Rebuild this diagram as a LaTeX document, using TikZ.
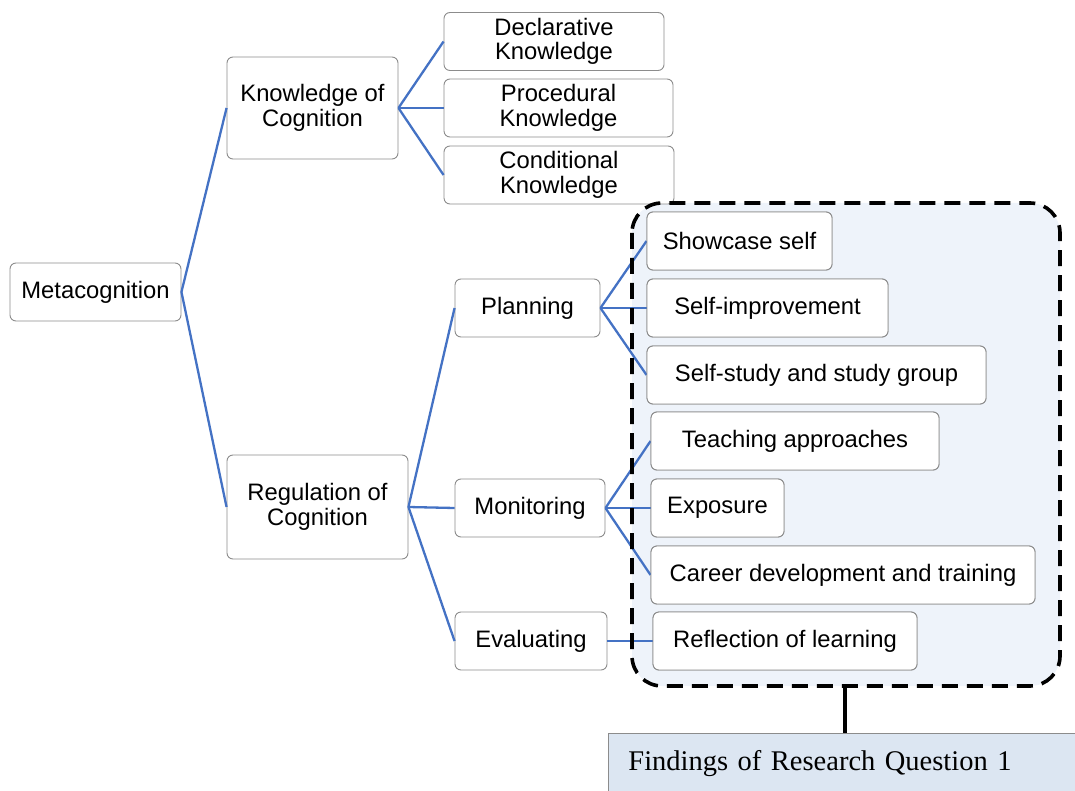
\documentclass[tikz,border=0pt]{standalone}
\usepackage{fontspec}
\setmainfont{Liberation Sans}
\newfontfamily\serifff{Liberation Serif}
\begin{document}
\begin{tikzpicture}[x=1pt,y=-1pt,
  box/.style={draw=black!45, line width=0.9pt, fill=white, rounded corners=6pt, align=center,
    font=\fontsize{23.8}{24.5}\selectfont, inner sep=0pt, minimum height=58},
  conn/.style={draw=linkblue, line width=2.3pt},
  findings/.style={draw=black!45, line width=0.9pt, fill=findfill, anchor=north west, align=left,
    font=\serifff\fontsize{28.5}{32}\selectfont, text width=440, inner xsep=20, inner ysep=0pt, minimum height=60}]
\definecolor{linkblue}{HTML}{4472C4}
\definecolor{panelfill}{HTML}{EEF3FA}
\definecolor{findfill}{HTML}{DCE6F2}
\useasboundingbox (0,0) rectangle (1075,791);
% panel background
\fill[panelfill, rounded corners=30] (632,203) rectangle (1060,686);
% nodes
\node[box, minimum width=171] (meta) at (95.5,292) {Metacognition};
\node[box, minimum width=171, minimum height=102] (know) at (312.5,108) {Knowledge of\\Cognition};
\node[box, minimum width=220] (decl) at (554,41.5) {Declarative\\Knowledge};
\node[box, minimum width=229] (proc) at (558.5,108) {Procedural\\Knowledge};
\node[box, minimum width=230] (cond) at (559,175) {Conditional\\Knowledge};
\node[box, minimum width=181, minimum height=104] (reg) at (317.5,507) {Regulation of\\Cognition};
\node[box, minimum width=145] (plan) at (527.5,308) {Planning};
\node[box, minimum width=150] (mon) at (530,508) {Monitoring};
\node[box, minimum width=152] (eval) at (531,641) {Evaluating};
\node[box, minimum width=185] (show) at (739.5,241) {Showcase self};
\node[box, minimum width=241] (simp) at (767.5,308) {Self-improvement};
\node[box, minimum width=339] (sstud) at (816.5,375) {Self-study and study group};
\node[box, minimum width=288] (teach) at (795,441) {Teaching approaches};
\node[box, minimum width=133] (expo) at (717.5,508) {Exposure};
\node[box, minimum width=384] (career) at (843,575) {Career development and training};
\node[box, minimum width=264] (refl) at (785,641) {Reflection of learning};
% connectors
\draw[conn] (meta.east) -- (know.west);
\draw[conn] (meta.east) -- (reg.west);
\draw[conn] (know.east) -- (decl.west);
\draw[conn] (know.east) -- (proc.west);
\draw[conn] (know.east) -- (cond.west);
\draw[conn] (reg.east) -- (plan.west);
\draw[conn] (reg.east) -- (mon.west);
\draw[conn] (reg.east) -- (eval.west);
\draw[conn] (plan.east) -- (show.west);
\draw[conn] (plan.east) -- (simp.west);
\draw[conn] (plan.east) -- (sstud.west);
\draw[conn] (mon.east) -- (teach.west);
\draw[conn] (mon.east) -- (expo.west);
\draw[conn] (mon.east) -- (career.west);
\draw[conn] (eval.east) -- (refl.west);
% panel border
\draw[black, line width=3.6pt, dash pattern=on 16pt off 9pt, rounded corners=30] (632,203) rectangle (1060,686);
% redraw the nodes on top of the border
\node[box, minimum width=185] at (739.5,241) {Showcase self};
\node[box, minimum width=241] at (767.5,308) {Self-improvement};
\node[box, minimum width=339] at (816.5,375) {Self-study and study group};
\node[box, minimum width=288] at (795,441) {Teaching approaches};
\node[box, minimum width=133] at (717.5,508) {Exposure};
\node[box, minimum width=384] at (843,575) {Career development and training};
\node[box, minimum width=264] at (785,641) {Reflection of learning};
% findings
\coordinate (panelbottom) at (845,686);
\node[findings] (find) at (608,733) {Findings of Research Question 1};
\draw[black, line width=3.6pt] (panelbottom) -- (find.north -| panelbottom);
\end{tikzpicture}
\end{document}
